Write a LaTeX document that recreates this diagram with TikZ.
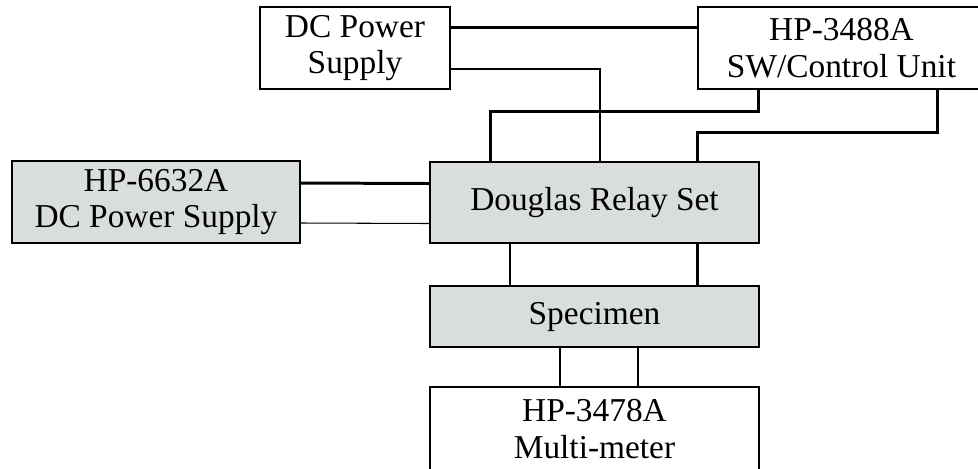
\documentclass[tikz,border=0pt]{standalone}
\usepackage{fontspec}
\setmainfont{Liberation Serif}
\usetikzlibrary{positioning}

\definecolor{boxgray}{RGB}{217,221,219}

\begin{document}
\begin{tikzpicture}[
x=0.02cm, y=-0.02cm,
font=\fontsize{19}{21}\selectfont,
unit/.style={draw, line width=0.75pt, inner sep=0pt, align=center},
greyunit/.style={unit, fill=boxgray},
wire/.style={line width=0.6pt},
heavywire/.style={line width=1.7pt}
]

\clip (0,0) rectangle (978,468);

%%%%%%%%%%%%%%%%%%%%%%%%%%%%%%%%%%%%%%%%%%%%%%%%%%%%%%
% TOP ROW
%%%%%%%%%%%%%%%%%%%%%%%%%%%%%%%%%%%%%%%%%%%%%%%%%%%%%%

\node[
unit,
minimum width=3.8cm,
minimum height=1.64cm
](psu)
at (355,48)
{DC Power\\Supply};

\node[
unit,
minimum width=5.74cm,
minimum height=1.64cm
](ctrl)
at (841.5,48)
{HP-3488A\\SW/Control Unit};

%%%%%%%%%%%%%%%%%%%%%%%%%%%%%%%%%%%%%%%%%%%%%%%%%%%%%%
% MIDDLE ROW
%%%%%%%%%%%%%%%%%%%%%%%%%%%%%%%%%%%%%%%%%%%%%%%%%%%%%%

\node[
greyunit,
minimum width=5.76cm,
minimum height=1.64cm
](hpsupply)
at (156,202)
{HP-6632A\\DC Power Supply};

\node[
greyunit,
minimum width=6.58cm,
minimum height=1.62cm
](relay)
at (594.5,202.5)
{Douglas Relay Set};

%%%%%%%%%%%%%%%%%%%%%%%%%%%%%%%%%%%%%%%%%%%%%%%%%%%%%%
% SPECIMEN AND METER
%%%%%%%%%%%%%%%%%%%%%%%%%%%%%%%%%%%%%%%%%%%%%%%%%%%%%%

\node[
greyunit,
minimum width=6.58cm,
minimum height=1.22cm
](specimen)
at (594.5,316.5)
{Specimen};

\node[
unit,
minimum width=6.58cm,
minimum height=1.7cm
](meter)
at (594.5,429.5)
{HP-3478A\\Multi-meter};

%%%%%%%%%%%%%%%%%%%%%%%%%%%%%%%%%%%%%%%%%%%%%%%%%%%%%%
% LINES
%%%%%%%%%%%%%%%%%%%%%%%%%%%%%%%%%%%%%%%%%%%%%%%%%%%%%%

\draw[heavywire] ([yshift=0.42cm]psu.east) -- ([yshift=0.42cm]ctrl.west);

\draw[wire] ([yshift=-0.42cm]psu.east) -| ([xshift=0.11cm]relay.north);

\draw[heavywire] ([xshift=-2.09cm]relay.north) -- ++(0,-50) -| ([xshift=-1.67cm]ctrl.south);

\draw[heavywire] ([xshift=1.93cm]ctrl.south) -- ++(0,43) -| ([xshift=2.07cm]relay.north);

\draw[heavywire] ([yshift=0.38cm]hpsupply.east) -- ([yshift=0.38cm]relay.west);

\draw[wire] ([yshift=-0.42cm]hpsupply.east) -- ([yshift=-0.42cm]relay.west);

\draw[wire] ([xshift=-1.69cm]relay.south) -- ([xshift=-1.69cm]specimen.north);

\draw[heavywire] ([xshift=2.07cm]relay.south) -- ([xshift=2.07cm]specimen.north);

\draw[wire] ([xshift=-0.69cm]specimen.south) -- ([xshift=-0.69cm]meter.north);

\draw[heavywire] ([xshift=0.87cm]specimen.south) -- ([xshift=0.87cm]meter.north);

\end{tikzpicture}
\end{document}
